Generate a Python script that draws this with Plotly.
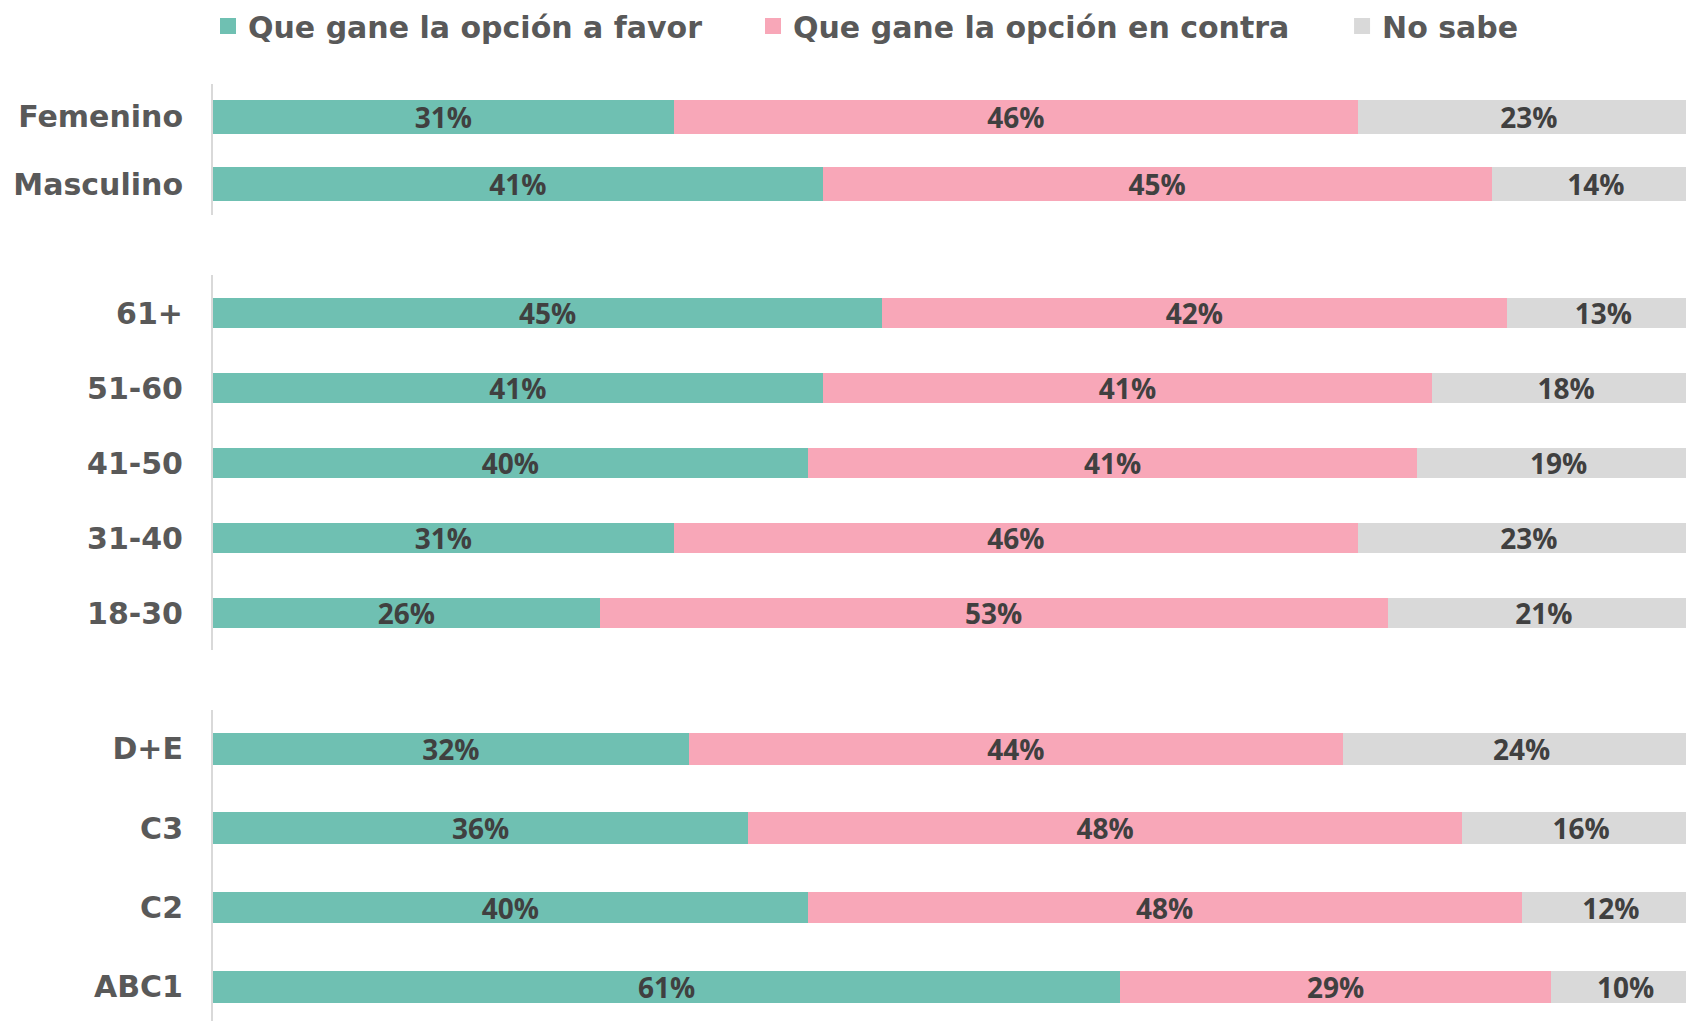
import plotly.graph_objects as go

series_names = ["Que gane la opción a favor", "Que gane la opción en contra", "No sabe"]
colors = ["#6fc0b2", "#f8a7b8", "#d9d9d9"]

gender_cats = ["Masculino", "Femenino"]
gender_favor = [41, 31]
gender_contra = [45, 46]
gender_nosabe = [14, 23]

age_cats = ["18-30", "31-40", "41-50", "51-60", "61+"]
age_favor = [26, 31, 40, 41, 45]
age_contra = [53, 46, 41, 41, 42]
age_nosabe = [21, 23, 19, 18, 13]

gse_cats = ["ABC1", "C2", "C3", "D+E"]
gse_favor = [61, 40, 36, 32]
gse_contra = [29, 48, 48, 44]
gse_nosabe = [10, 12, 16, 24]

TICK_FONT = "DejaVu Sans"
LABEL_FONT = "Open Sans"

W, H = 1686, 1021
panels = [
    (gender_cats, [gender_favor, gender_contra, gender_nosabe], "y", [0.7894, 0.9177], [-0.46, 1.49], 0.51),
    (age_cats, [age_favor, age_contra, age_nosabe], "y2", [0.3634, 0.7307], [-0.49, 4.51], 0.40),
    (gse_cats, [gse_favor, gse_contra, gse_nosabe], "y3", [0.0, 0.3046], [-0.43, 3.49], 0.40),
]

fig = go.Figure()
for pi, (cats, vals, yref, dom, rng, bw) in enumerate(panels):
    for si in range(3):
        fig.add_trace(go.Bar(
            y=cats, x=vals[si], orientation="h",
            name=series_names[si], showlegend=False,
            marker=dict(color=colors[si], line=dict(width=0)),
            width=bw,
            text=[f"{v}%" for v in vals[si]],
            textposition="inside", insidetextanchor="middle",
            textangle=0, constraintext="none",
            textfont=dict(family=LABEL_FONT, size=28, color="#404040", weight="bold"),
            xaxis="x", yaxis=yref,
            hoverinfo="skip",
        ))

# legend-only entries, one legend per series so each can be placed like the reference
legend_keys = ["legend", "legend2", "legend3"]
legend_x = [-0.0034, 0.3666, 0.7665]
for si in range(3):
    fig.add_trace(go.Scatter(
        x=[None], y=[None], mode="markers", name=series_names[si],
        marker=dict(symbol="square", size=16, color=colors[si]),
        legend=legend_keys[si], showlegend=True, xaxis="x", yaxis="y",
        hoverinfo="skip",
    ))

layout_axes = {}
for pi, (cats, vals, yref, dom, rng, bw) in enumerate(panels):
    key = "yaxis" if pi == 0 else f"yaxis{pi+1}"
    layout_axes[key] = dict(
        domain=dom, type="category", categoryorder="array", categoryarray=cats,
        range=rng, anchor="x", showline=True, linecolor="#d9d9d9", linewidth=2,
        showgrid=False, zeroline=False, ticks="",
        ticklabelstandoff=22,
        tickfont=dict(family=TICK_FONT, size=30, color="#595959", weight="bold"),
    )

legend_common = dict(orientation="h", xanchor="left", y=1 - 26 / H, yanchor="middle",
                     font=dict(family=TICK_FONT, size=30, color="#595959", weight="bold"),
                     itemsizing="trace", bgcolor="rgba(0,0,0,0)")
legends = {k: dict(legend_common, x=legend_x[i]) for i, k in enumerate(legend_keys)}

# the reference's 100% lies just past the right edge of the picture
x_visible_max = 99.06

fig.update_layout(
    barmode="stack",
    width=W, height=H,
    margin=dict(l=213, r=0, t=0, b=0, autoexpand=False),
    paper_bgcolor="white", plot_bgcolor="white",
    xaxis=dict(range=[0, x_visible_max], showgrid=False, showticklabels=False, zeroline=False,
               showline=False, ticks="", domain=[0, 1]),
    **layout_axes,
    **legends,
)

fig.write_html(
    "out.html",
    config={"displayModeBar": False},
    post_script="document.body.style.margin='0';document.body.style.overflow='hidden';",
)
